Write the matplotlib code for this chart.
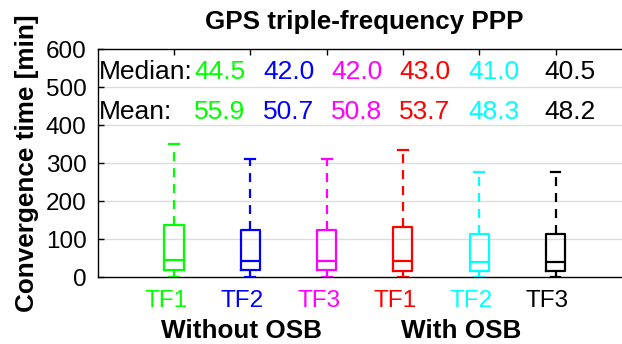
import matplotlib
matplotlib.use("Agg")
import matplotlib.pyplot as plt
import matplotlib.transforms as mtransforms

# ---------------- data ----------------
categories = ["TF1", "TF2", "TF3", "TF1", "TF2", "TF3"]
groups = ["Without OSB", "With OSB"]
colors = ["#00FF00", "#0000FF", "#FF00FF", "#FF0000", "#00FFFF", "#000000"]
medians = [44.5, 42.0, 42.0, 43.0, 41.0, 40.5]
means = [55.9, 50.7, 50.8, 53.7, 48.3, 48.2]
q1 = [18, 18, 18, 17, 17, 17]
q3 = [137, 124, 124, 132, 113, 113]
whisker_low = [2, 2, 2, 2, 2, 2]
whisker_high = [350, 312, 312, 335, 278, 276]
yticks = [0, 100, 200, 300, 400, 500, 600]

# ---------------- layout ----------------
plt.rcParams['font.family'] = ['Liberation Sans', 'DejaVu Sans']
plt.rcParams['lines.scale_dashes'] = False
fig = plt.figure(figsize=(6.22, 3.44), dpi=100)
ax = fig.add_axes([97.7 / 622, (344 - 277.3) / 344, 7 * 76.3 / 622, 228 / 344])

positions = list(range(1, len(categories) + 1))
value_x = [1.262, 2.167, 3.058, 3.949, 4.853, 5.849]

for i, p in enumerate(positions):
    st = dict(med=medians[i], q1=q1[i], q3=q3[i],
              whislo=whisker_low[i], whishi=whisker_high[i], fliers=[])
    c = colors[i]
    ax.bxp([st], positions=[p], widths=0.25, showfliers=False,
           boxprops=dict(color=c, linewidth=1.6),
           medianprops=dict(color=c, linewidth=1.6),
           whiskerprops=dict(color=c, linewidth=1.6, linestyle=(0, (6.5, 5.0))),
           capprops=dict(color=c, linewidth=1.6),
           capwidths=0.13, manage_ticks=False, zorder=3)

ax.set_xlim(0, 7)
ax.set_ylim(0, 600)
ax.set_yticks(yticks)
ax.set_yticklabels([str(v) for v in yticks], fontsize=17.5)
for v in yticks[1:-1]:
    ax.axhline(v, color="#dcdcdc", linewidth=1.0, zorder=1)

ax.set_xticks(positions)
ax.tick_params(axis='x', which='both', bottom=False, top=True, direction='in',
               length=4, width=1, labelbottom=False)
ax.tick_params(axis='y', direction='in', length=4, width=1, pad=8)
ax.spines['right'].set_visible(False)
for s in ['left', 'top', 'bottom']:
    ax.spines[s].set_linewidth(1.0)

# category labels (colored)
offset = mtransforms.ScaledTranslation(-8 / 100, 0, fig.dpi_scale_trans)
for i, p in enumerate(positions):
    ax.text(p, -0.105, categories[i], color=colors[i], fontsize=17.5,
            ha='center', va='center',
            transform=mtransforms.blended_transform_factory(ax.transData, ax.transAxes) + offset)

# group labels
bt = mtransforms.blended_transform_factory(ax.transData, fig.transFigure)
ax.text(1.89, 1 - 331 / 344, groups[0], fontsize=18.8, fontweight='bold',
        ha='center', va='center', transform=bt)
ax.text(4.77, 1 - 331 / 344, groups[1], fontsize=18.8, fontweight='bold',
        ha='center', va='center', transform=bt)

# statistics rows
ax.text(0.02, 540, "Median:", fontsize=19, ha='left', va='center')
ax.text(0.02, 435, "Mean:", fontsize=19, ha='left', va='center')
for i in range(len(categories)):
    ax.text(value_x[i], 540, f"{medians[i]:.1f}", color=colors[i], fontsize=19,
            ha='left', va='center')
    ax.text(value_x[i], 435, f"{means[i]:.1f}", color=colors[i], fontsize=19,
            ha='left', va='center')

ax.set_ylabel("Convergence time [min]", fontsize=18.8, fontweight='bold', labelpad=5)
fig.text(364.5 / 622, 1 - 22 / 344, "GPS triple-frequency PPP", fontsize=18.7,
         fontweight='bold', ha='center', va='center')

fig.savefig("out.png", dpi=100)
